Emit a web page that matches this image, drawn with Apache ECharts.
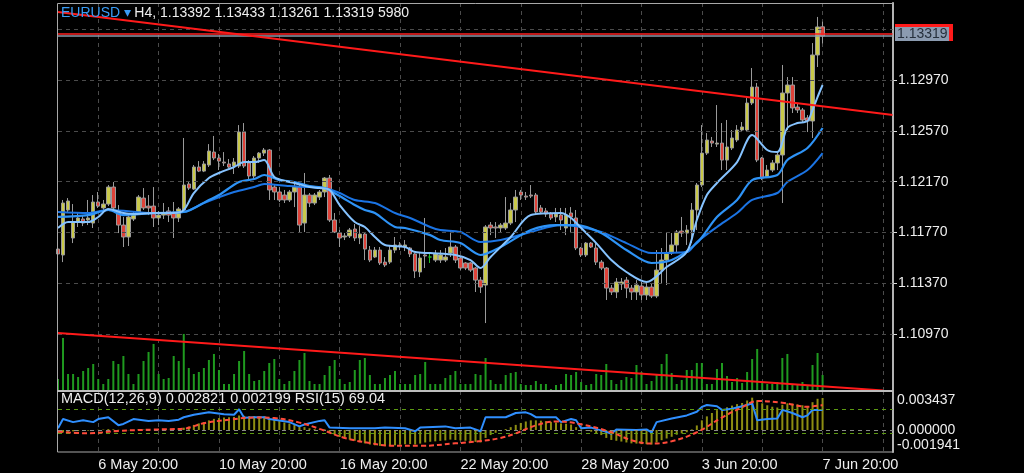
<!DOCTYPE html>
<html><head><meta charset="utf-8">
<script src="https://cdn.jsdelivr.net/npm/echarts@6/dist/echarts.min.js"></script>
<style>html,body{margin:0;padding:0;background:#000;}#c{width:1024px;height:473px;}</style>
</head><body><div id="c"></div>
<script>
// ---------- data ----------
const dateLabels = ["6 May 20:00","10 May 20:00","16 May 20:00","22 May 20:00","28 May 20:00","3 Jun 20:00","7 Jun 20:00"];
const dateLabelIdx = [8,32,56,80,104,128,152];
const slotCount = 167;
const priceTicks = [1.10970,1.11370,1.11770,1.12170,1.12570,1.12970];
const priceGrid = [1.10970,1.11370,1.11770,1.12170,1.12570,1.12970,1.13370];
const macdTicks = [-0.001941,0,0.003437];
const lastBid = 1.13319, lastAsk = 1.13341;

const open = [
1.11639,1.11592,1.11947,1.11726,1.11852,1.11876,1.11868,1.11844,1.12010,1.11963,
1.11994,1.12128,1.11939,1.11828,1.11734,1.11876,1.11931,1.12041,1.11978,1.11978,
1.11884,1.11907,1.11939,1.11931,1.11884,1.11947,1.12152,1.12112,1.12286,1.12254,
1.12302,1.12404,1.12357,1.12325,1.12310,1.12294,1.12294,1.12562,1.12318,1.12215,
1.12357,1.12396,1.12420,1.12128,1.12089,1.12065,1.12026,1.12089,1.12128,1.11844,
1.12065,1.12002,1.12049,1.12089,1.12199,1.11868,1.11765,1.11734,1.11742,1.11797,
1.11726,1.11757,1.11631,1.11576,1.11631,1.11536,1.11536,1.11631,1.11663,1.11655,
1.11647,1.11600,1.11458,1.11592,1.11576,1.11552,1.11552,1.11552,1.11607,1.11655,
1.11568,1.11529,1.11529,1.11489,1.11394,1.11355,1.11828,1.11813,1.11805,1.11805,
1.11844,1.11947,1.12089,1.12057,1.12065,1.12065,1.11963,1.11939,1.11915,1.11892,
1.11907,1.11805,1.11923,1.11884,1.11647,1.11592,1.11686,1.11647,1.11536,1.11489,
1.11331,1.11300,1.11363,1.11394,1.11331,1.11300,1.11347,1.11276,1.11339,1.11268,
1.11473,1.11552,1.11607,1.11671,1.11781,1.11765,1.11789,1.11947,1.12144,1.12396,
1.12491,1.12467,1.12475,1.12341,1.12436,1.12499,1.12578,1.12578,1.12791,1.12917,
1.12357,1.12207,1.12262,1.12318,1.12381,1.12870,1.12933,1.12759,1.12736,1.12673,
1.12649,1.13170,1.13392];
const close = [
1.11600,1.12002,1.12018,1.11852,1.11884,1.11844,1.11884,1.12010,1.11978,1.11994,
1.12128,1.11963,1.11828,1.11734,1.11892,1.11915,1.12049,1.11963,1.11963,1.11884,
1.11907,1.11923,1.11907,1.11884,1.11955,1.12144,1.12120,1.12286,1.12254,1.12310,
1.12412,1.12357,1.12333,1.12318,1.12286,1.12325,1.12562,1.12294,1.12215,1.12357,
1.12396,1.12420,1.12105,1.12089,1.12026,1.12026,1.12089,1.12128,1.11828,1.12065,
1.12002,1.12065,1.12089,1.12199,1.11868,1.11773,1.11726,1.11742,1.11789,1.11726,
1.11757,1.11639,1.11552,1.11631,1.11529,1.11513,1.11631,1.11671,1.11671,1.11671,
1.11600,1.11465,1.11568,1.11584,1.11576,1.11600,1.11592,1.11576,1.11655,1.11552,
1.11489,1.11489,1.11473,1.11394,1.11339,1.11813,1.11805,1.11805,1.11828,1.11844,
1.11947,1.12049,1.12065,1.12049,1.12057,1.11931,1.11931,1.11915,1.11884,1.11915,
1.11868,1.11907,1.11892,1.11647,1.11592,1.11686,1.11655,1.11536,1.11489,1.11331,
1.11300,1.11379,1.11379,1.11331,1.11300,1.11355,1.11276,1.11339,1.11268,1.11473,
1.11552,1.11607,1.11671,1.11773,1.11765,1.11789,1.11947,1.12144,1.12396,1.12499,
1.12475,1.12475,1.12341,1.12444,1.12515,1.12578,1.12602,1.12791,1.12917,1.12341,
1.12199,1.12262,1.12318,1.12381,1.12870,1.12933,1.12752,1.12736,1.12657,1.12649,
1.13170,1.13391,1.13319];
const high = [
1.11663,1.12026,1.12041,1.11994,1.11923,1.11907,1.12026,1.12065,1.12089,1.12026,
1.12144,1.12168,1.11986,1.11892,1.11907,1.11931,1.12065,1.12120,1.12065,1.12128,
1.11939,1.12002,1.11970,1.12010,1.11970,1.12515,1.12168,1.12302,1.12333,1.12333,
1.12467,1.12531,1.12389,1.12404,1.12349,1.12357,1.12617,1.12633,1.12341,1.12373,
1.12404,1.12436,1.12428,1.12144,1.12128,1.12105,1.12105,1.12160,1.12144,1.12239,
1.12081,1.12081,1.12105,1.12207,1.12223,1.11923,1.11789,1.11765,1.11805,1.11836,
1.11820,1.11765,1.11663,1.11655,1.11655,1.11576,1.11671,1.11734,1.11694,1.11710,
1.11655,1.11607,1.11607,1.11884,1.11615,1.11631,1.11631,1.11647,1.11789,1.11671,
1.11576,1.11536,1.11536,1.11497,1.11418,1.11828,1.11852,1.11852,1.11844,1.12049,
1.12002,1.12105,1.12105,1.12089,1.12144,1.12081,1.11986,1.11963,1.11931,1.11963,
1.11963,1.11963,1.11970,1.11947,1.11655,1.11694,1.11694,1.11686,1.11552,1.11497,
1.11355,1.11410,1.11410,1.11418,1.11355,1.11394,1.11379,1.11371,1.11371,1.11631,
1.11647,1.11773,1.11765,1.11789,1.11892,1.11828,1.12002,1.12160,1.12617,1.12554,
1.12523,1.12775,1.12633,1.12657,1.12578,1.12617,1.12641,1.12830,1.13067,1.12949,
1.12365,1.12302,1.12341,1.12404,1.13091,1.12996,1.12996,1.12791,1.12752,1.12696,
1.13264,1.13470,1.13433];
const low = [
1.11576,1.11536,1.11931,1.11686,1.11813,1.11820,1.11828,1.11805,1.11963,1.11947,
1.11978,1.11955,1.11765,1.11655,1.11663,1.11860,1.11915,1.11947,1.11907,1.11813,
1.11828,1.11876,1.11852,1.11726,1.11852,1.11931,1.12105,1.12105,1.12246,1.12246,
1.12286,1.12341,1.12262,1.12294,1.12278,1.12231,1.12278,1.12278,1.12183,1.12191,
1.12318,1.12373,1.12026,1.12026,1.12010,1.12002,1.12010,1.11970,1.11773,1.11773,
1.11970,1.11986,1.12026,1.12049,1.11852,1.11765,1.11655,1.11710,1.11726,1.11702,
1.11678,1.11552,1.11536,1.11568,1.11513,1.11497,1.11521,1.11607,1.11631,1.11623,
1.11576,1.11410,1.11418,1.11489,1.11529,1.11536,1.11529,1.11536,1.11576,1.11529,
1.11473,1.11473,1.11458,1.11300,1.11292,1.11055,1.11749,1.11726,1.11773,1.11789,
1.11828,1.11852,1.12026,1.12026,1.12041,1.11907,1.11923,1.11892,1.11868,1.11852,
1.11789,1.11749,1.11765,1.11631,1.11576,1.11576,1.11647,1.11513,1.11473,1.11237,
1.11276,1.11252,1.11316,1.11252,1.11237,1.11237,1.11237,1.11237,1.11252,1.11252,
1.11371,1.11355,1.11592,1.11615,1.11734,1.11671,1.11686,1.11789,1.12128,1.12381,
1.12444,1.12444,1.12262,1.12262,1.12420,1.12483,1.12562,1.12562,1.12775,1.12325,
1.12183,1.12199,1.12246,1.12262,1.12002,1.12578,1.12712,1.12712,1.12641,1.12562,
1.12515,1.13075,1.13261];
const greenDojiIdx = [74];
const volume = [
4490,19820,6360,6360,5240,7480,8600,10100,4490,2620,
4490,11220,10100,13090,6360,2620,6360,11220,14590,17580,
6360,4490,4860,13090,11220,21320,8600,6360,7110,8600,
11590,13840,7850,2620,2620,6360,11220,14960,6360,3740,
4110,7480,10470,11970,4490,2620,3740,7480,11590,14210,
3740,2620,2620,5980,9350,11590,4490,2620,3370,7850,
11590,12340,5980,2620,2620,4860,5980,7480,2620,2620,
2620,5980,6360,10850,2620,2620,2620,4860,5980,7480,
2620,2620,2620,6360,5980,12340,4110,2620,2620,5980,
6730,7110,2620,2240,2240,3740,2620,2620,750,2240,
2620,6360,5980,7110,3370,2240,2620,6360,5980,10100,
4110,2620,4110,5240,4860,9720,7110,2620,3740,5980,
10100,13840,6730,2620,4110,7850,7850,10470,10470,2620,
2620,8230,10470,5610,3370,4860,2990,7110,11970,15710,
2990,2620,2620,3370,12340,13840,2240,2620,3370,2240,
9720,14210,5980];
const macd = [
-0.00030,-0.00022,-0.00016,-0.00012,-0.00010,-0.00008,-0.00006,-0.00002,0.00002,0.00004,
0.00008,0.00006,0.00002,-0.00004,-0.00002,0.00001,0.00005,0.00004,0.00003,0.00000,
-0.00001,0.00000,0.00001,0.00000,0.00002,0.00020,0.00030,0.00045,0.00058,0.00070,
0.00085,0.00098,0.00105,0.00110,0.00112,0.00115,0.00128,0.00125,0.00122,0.00123,
0.00122,0.00120,0.00105,0.00092,0.00078,0.00066,0.00057,0.00050,0.00030,0.00025,
0.00015,0.00008,0.00004,0.00006,-0.00020,-0.00045,-0.00062,-0.00075,-0.00085,-0.00095,
-0.00105,-0.00118,-0.00128,-0.00135,-0.00140,-0.00142,-0.00138,-0.00135,-0.00130,-0.00126,
-0.00124,-0.00128,-0.00120,-0.00110,-0.00104,-0.00100,-0.00096,-0.00092,-0.00085,-0.00088,
-0.00092,-0.00095,-0.00098,-0.00105,-0.00110,-0.00070,-0.00045,-0.00025,-0.00010,0.00008,
0.00025,0.00045,0.00062,0.00075,0.00085,0.00085,0.00082,0.00078,0.00072,0.00066,
0.00058,0.00055,0.00048,0.00025,0.00005,-0.00005,-0.00015,-0.00030,-0.00045,-0.00070,
-0.00088,-0.00095,-0.00102,-0.00110,-0.00118,-0.00120,-0.00125,-0.00125,-0.00128,-0.00110,
-0.00090,-0.00075,-0.00060,-0.00042,-0.00030,-0.00020,0.00005,0.00040,0.00085,0.00120,
0.00150,0.00175,0.00185,0.00200,0.00215,0.00228,0.00238,0.00260,0.00285,0.00262,
0.00235,0.00218,0.00205,0.00198,0.00222,0.00235,0.00232,0.00225,0.00218,0.00212,
0.00245,0.00275,0.002821];
const signal = [[0,-0.00015],[6,-0.00029],[12,-0.00008],[19,0.00004],[25,0.00012],[29,0.00060],[34,0.00090],[39,0.00110],[43,0.00105],[48,0.00065],[52,0.00010],[57,-0.00070],[62,-0.00115],[66,-0.00138],[72,-0.00140],[79,-0.00118],[84,-0.00098],[88,-0.00070],[91,-0.00030],[95,0.00040],[99,0.00075],[104,0.00050],[110,-0.00020],[114,-0.00090],[118,-0.00120],[122,-0.00100],[127,-0.00020],[132,0.00110],[136,0.00200],[139,0.00255],[144,0.00240],[149,0.00205],[152,0.002199]];
const rsi = [[0,39],[1,54],[3,49],[5,52],[7,49],[8,54],[10,57],[12,44],[13,46],[15,54],[18,51],[20,52],[22,51],[24,53],[25,57],[27,61],[30,65],[33,62],[35,61],[36,70],[37,56],[39,57],[41,57],[42,54],[46,49],[48,42],[49,45],[52,51],[53,52],[54,40],[58,39],[63,39],[65,40],[69,39],[71,34],[72,40],[77,42],[79,39],[82,40],[84,34],[85,57],[89,57],[91,64],[93,65],[94,62],[95,57],[99,57],[100,49],[102,54],[103,52],[104,39],[106,40],[109,33],[110,30],[111,37],[115,36],[117,37],[118,32],[119,49],[122,55],[125,60],[127,66],[128,74],[129,77],[131,75],[132,69],[134,71],[137,77],[138,80],[139,52],[141,54],[143,55],[144,69],[146,64],[148,57],[149,60],[150,69],[152,69.04]];
const maFast = [[0,1.11805],[2,1.11852],[6,1.11852],[8,1.11892],[10,1.11955],[13,1.11923],[15,1.11915],[19,1.11923],[23,1.11923],[25,1.11947],[27,1.12081],[30,1.12199],[32,1.12239],[35,1.12286],[37,1.12325],[39,1.12325],[41,1.12341],[43,1.12207],[46,1.12168],[47,1.12160],[50,1.12128],[52,1.12120],[54,1.12105],[56,1.11986],[59,1.11852],[61,1.11813],[63,1.11734],[65,1.11671],[69,1.11655],[71,1.11615],[74,1.11607],[79,1.11592],[82,1.11552],[84,1.11489],[86,1.11576],[90,1.11734],[94,1.11907],[100,1.11923],[102,1.11884],[104,1.11805],[107,1.11686],[110,1.11552],[113,1.11458],[117,1.11379],[121,1.11497],[125,1.11615],[127,1.11868],[129,1.12065],[131,1.12160],[135,1.12325],[138,1.12538],[141,1.12420],[143,1.12404],[145,1.12594],[147,1.12633],[149,1.12649],[150,1.12736],[151,1.12838],[152,1.12933]];
const maMid = [[0,1.11892],[6,1.11907],[10,1.11947],[13,1.11907],[19,1.11923],[25,1.11931],[30,1.12026],[32,1.12065],[36,1.12168],[39,1.12191],[41,1.12223],[44,1.12183],[47,1.12168],[50,1.12136],[53,1.12120],[56,1.12057],[59,1.11986],[61,1.11947],[63,1.11923],[67,1.11813],[69,1.11805],[74,1.11749],[76,1.11710],[80,1.11686],[84,1.11592],[88,1.11655],[94,1.11789],[99,1.11828],[103,1.11828],[108,1.11765],[113,1.11631],[118,1.11529],[122,1.11552],[127,1.11686],[131,1.11892],[135,1.12026],[138,1.12183],[143,1.12223],[145,1.12341],[149,1.12436],[152,1.12594]];
const maSlow = [[0,1.11931],[6,1.11923],[10,1.11947],[19,1.11923],[25,1.11931],[29,1.12002],[35,1.12089],[39,1.12128],[41,1.12152],[46,1.12136],[50,1.12128],[53,1.12120],[56,1.12081],[59,1.12026],[63,1.12002],[67,1.11923],[70,1.11884],[74,1.11813],[76,1.11789],[80,1.11773],[84,1.11694],[88,1.11710],[94,1.11773],[100,1.11828],[104,1.11813],[108,1.11773],[113,1.11686],[118,1.11607],[125,1.11615],[127,1.11694],[131,1.11813],[135,1.11923],[138,1.12026],[143,1.12081],[145,1.12168],[149,1.12262],[152,1.12396]];
const trendUpper = [[0,1.13509],[166,1.12696]];
const trendLower = [[0,1.10976],[164,1.10522]];

// ---------- chart ----------
const categories = Array.from({length: slotCount}, (_, i) => String(i));
const font = 'Liberation Sans, Arial, sans-serif';
const gridC = '#4b4b4b';
const L = 58, W = 835;
const splitIv = (i) => i >= 8 && (i - 8) % 12 === 0;

const candleData = open.map((o, i) => {
  const v = [o, close[i], low[i], high[i]];
  if (greenDojiIdx.includes(i)) return {value: v, itemStyle: {color: '#22c022', color0: '#22c022', borderColor: '#22c022', borderColor0: '#22c022'}};
  return v;
});

const chart = echarts.init(document.getElementById('c'), null, {renderer: 'canvas', width: 1024, height: 473});
chart.setOption({
  backgroundColor: '#000',
  animation: false,
  textStyle: {fontFamily: font},
  grid: [
    {left: L, top: 3, width: W, height: 388},
    {left: L, top: 3, width: W, height: 388},
    {left: L, top: 391, width: W, height: 61}
  ],
  xAxis: [
    {type: 'category', gridIndex: 0, data: categories, boundaryGap: false,
     axisLine: {show: false}, axisTick: {show: false}, axisLabel: {show: false},
     splitLine: {show: true, interval: splitIv, lineStyle: {color: gridC, type: [4, 4]}}},
    {type: 'category', gridIndex: 1, data: categories, boundaryGap: false, show: false},
    {type: 'category', gridIndex: 2, data: categories, boundaryGap: false,
     axisLine: {show: false}, axisTick: {show: false},
     axisLabel: {show: true, interval: (i) => dateLabelIdx.includes(i),
       formatter: (v, i) => dateLabels[dateLabelIdx.indexOf(Number(v))] || '',
       align: 'left', color: '#eeeeee', fontSize: 14.5, margin: 5, fontFamily: font},
     splitLine: {show: true, interval: splitIv, lineStyle: {color: gridC, type: [4, 4]}}}
  ],
  yAxis: [
    {type: 'value', gridIndex: 0, position: 'right', min: 1.10519, max: 1.13580,
     axisLine: {show: true, lineStyle: {color: '#bdbdbd', width: 2}},
     axisTick: {show: true, customValues: priceTicks, length: 4, lineStyle: {color: '#dddddd'}},
     axisLabel: {customValues: priceTicks, formatter: v => v.toFixed(5), color: '#eeeeee', fontSize: 14, margin: 5, fontFamily: font},
     splitLine: {show: false}},
    {type: 'value', gridIndex: 1, min: 0, max: 145000, show: false},
    {type: 'value', gridIndex: 2, position: 'right', min: -0.001941, max: 0.003437,
     axisLine: {show: true, lineStyle: {color: '#bdbdbd', width: 2}},
     axisTick: {show: false},
     axisLabel: {customValues: macdTicks, formatter: v => v.toFixed(6), color: '#eeeeee', fontSize: 14, margin: 4, fontFamily: font,
       verticalAlignMinLabel: 'bottom', verticalAlignMaxLabel: 'top', padding: [2, 0, 0, 0]},
     splitLine: {show: false}},
    {type: 'value', gridIndex: 2, min: 0, max: 100, show: false}
  ],
  series: [
    {type: 'line', xAxisIndex: 0, yAxisIndex: 0, data: [], z: 1, silent: true,
     markLine: {symbol: 'none', silent: true, animation: false, precision: 6, label: {show: false},
       lineStyle: {color: gridC, type: [4, 4], width: 1},
       data: priceGrid.map(v => ({yAxis: v}))}},
    {type: 'bar', xAxisIndex: 1, yAxisIndex: 1, data: volume, barWidth: 2, z: 2,
     itemStyle: {color: '#1f9a1f'}, silent: true},
    {type: 'candlestick', xAxisIndex: 0, yAxisIndex: 0, data: candleData, barWidth: 4, z: 3,
     itemStyle: {color: '#c9c94a', color0: '#de4239', borderColor: '#9a9a9a', borderColor0: '#9a9a9a', borderWidth: 1}},
    {type: 'line', xAxisIndex: 0, yAxisIndex: 0, data: maSlow, smooth: 0.3, symbol: 'none', z: 4,
     lineStyle: {color: '#1b74e4', width: 2}},
    {type: 'line', xAxisIndex: 0, yAxisIndex: 0, data: maMid, smooth: 0.3, symbol: 'none', z: 4,
     lineStyle: {color: '#2e93f6', width: 2.2}},
    {type: 'line', xAxisIndex: 0, yAxisIndex: 0, data: maFast, smooth: 0.3, symbol: 'none', z: 4,
     lineStyle: {color: '#86c3ff', width: 2}},
    {type: 'line', xAxisIndex: 0, yAxisIndex: 0, data: [], z: 5, silent: true,
     markLine: {symbol: 'none', silent: true, animation: false, precision: 6, label: {show: false},
       data: [
         {yAxis: lastAsk, lineStyle: {color: '#ff2020', width: 1.5, type: 'solid'}},
         {yAxis: lastBid, lineStyle: {color: '#8c9aaa', width: 1.5, type: 'solid'}}
       ]}},
    {type: 'line', xAxisIndex: 0, yAxisIndex: 0, data: trendUpper, symbol: 'none', z: 6,
     lineStyle: {color: '#ff1a1a', width: 2}},
    {type: 'line', xAxisIndex: 0, yAxisIndex: 0, data: trendLower, symbol: 'none', z: 6,
     lineStyle: {color: '#ff1a1a', width: 2}},
    {type: 'bar', xAxisIndex: 2, yAxisIndex: 2, data: macd, barWidth: 2, z: 2,
     itemStyle: {color: '#8e8e12'},
     markLine: {symbol: 'none', silent: true, animation: false, precision: 8, label: {show: false},
       lineStyle: {color: '#8a8a8a', type: [4, 4], width: 1}, data: [{yAxis: 0}]}},
    {type: 'line', xAxisIndex: 2, yAxisIndex: 3, data: rsi, symbol: 'none', z: 4,
     lineStyle: {color: '#2f8fff', width: 2},
     markLine: {symbol: 'none', silent: true, animation: false, precision: 4, label: {show: false},
       lineStyle: {color: '#5c9a12', type: [4, 4], width: 1}, data: [{yAxis: 70}, {yAxis: 30}]}},
    {type: 'line', xAxisIndex: 2, yAxisIndex: 2, data: signal, smooth: 0.4, symbol: 'none', z: 5,
     lineStyle: {color: '#ff4a3a', width: 2, type: [5, 3]}}
  ],
  graphic: [
    {type: 'rect', z: 50, silent: true, shape: {x: 57.5, y: 3.5, width: 835.5, height: 448.5},
     style: {fill: 'none', stroke: '#a8a8a8', lineWidth: 1}},
    {type: 'line', z: 50, silent: true, shape: {x1: 57, y1: 391, x2: 893, y2: 391},
     style: {stroke: '#bdbdbd', lineWidth: 2}},
    {type: 'rect', z: 50, silent: true, shape: {x: 895, y: 24, width: 58, height: 17}, style: {fill: '#ff1a1a'}},
    {type: 'rect', z: 51, silent: true, shape: {x: 895, y: 27, width: 54, height: 14}, style: {fill: '#8b9bb0'}},
    {type: 'text', z: 52, silent: true, x: 897, y: 34.5,
     style: {text: lastBid.toFixed(5), fill: '#26303c', font: '14px ' + font, verticalAlign: 'middle', align: 'left'}},
    {type: 'text', z: 52, silent: true, x: 61, y: 13,
     style: {text: '{a|EURUSD ▾} {b|H4, 1.13392 1.13433 1.13261 1.13319 5980}', verticalAlign: 'middle', align: 'left',
       rich: {a: {fill: '#3a9cf5', fontSize: 14, fontFamily: font}, b: {fill: '#eeeeee', fontSize: 14, fontFamily: font}}}},
    {type: 'text', z: 52, silent: true, x: 61, y: 399,
     style: {text: 'MACD(12,26,9) 0.002821 0.002199 RSI(15) 69.04', fill: '#eeeeee', font: '14.5px ' + font, verticalAlign: 'middle', align: 'left'}}
  ]
});
</script></body></html>
